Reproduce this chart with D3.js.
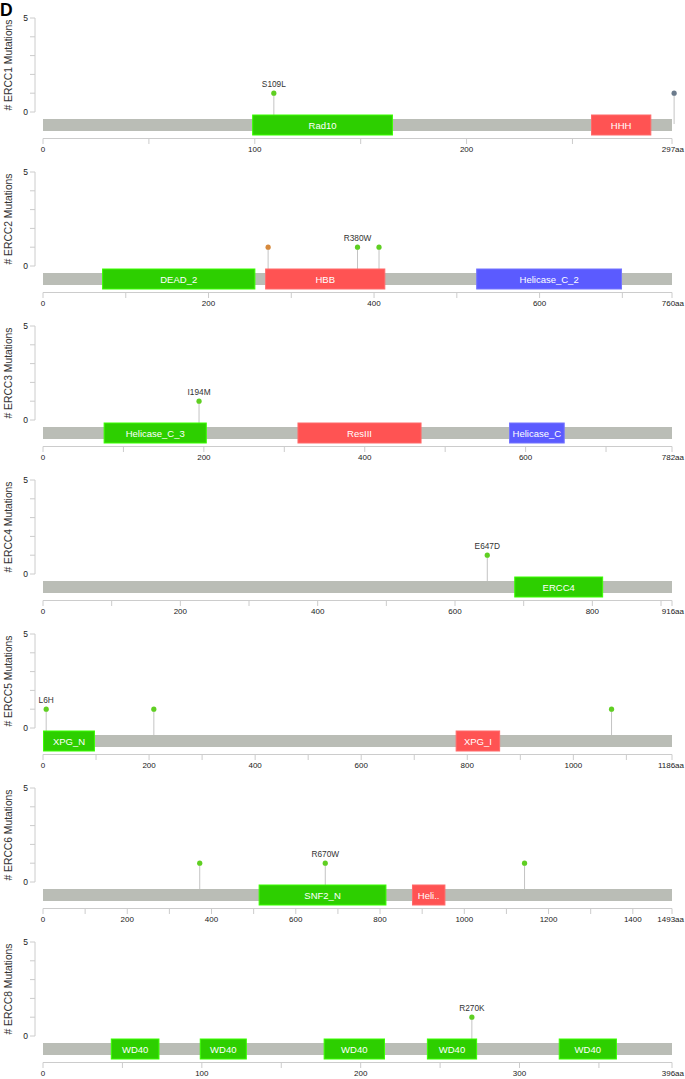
<!DOCTYPE html>
<html>
<head>
<meta charset="utf-8">
<script src="https://cdn.jsdelivr.net/npm/d3@7"></script>
<style>
  body { margin: 0; background: #fff; }
  svg text { font-family: "Liberation Sans", Arial, sans-serif; }
</style>
</head>
<body>
<div class="wrapper"></div>
<script>
// genes, in panel order
var genes = ["ERCC1", "ERCC2", "ERCC3", "ERCC4", "ERCC5", "ERCC6", "ERCC8"];
var lengths = [297, 760, 782, 916, 1186, 1493, 396];
var tickSteps = [50, 100, 100, 100, 100, 100, 50];
var yTicks = [0, 1, 2, 3, 4, 5];
var yTickLabels = [0, 5];

// pfam domains per gene [name, start, end]
var domains = [
  [["Rad10", 99, 165], ["HHH", 259, 287]],
  [["DEAD_2", 72, 256], ["HBB", 269, 413], ["Helicase_C_2", 524, 699]],
  [["Helicase_C_3", 76, 203], ["ResIII", 317, 470], ["Helicase_C", 580, 648]],
  [["ERCC4", 687, 815]],
  [["XPG_N", 1, 97], ["XPG_I", 779, 861]],
  [["SNF2_N", 513, 814], ["Helicase_C", 877, 954]],
  [["WD40", 43, 73], ["WD40", 99, 128], ["WD40", 177, 215], ["WD40", 242, 273], ["WD40", 325, 361]]
];

// mutations per gene [position, count, label, type]
var mutations = [
  [[109, 1, "S109L", "missense"], [298, 1, "", "truncating"]],
  [[272, 1, "", "inframe"], [380, 1, "R380W", "missense"], [406, 1, "", "missense"]],
  [[194, 1, "I194M", "missense"]],
  [[647, 1, "E647D", "missense"]],
  [[6, 1, "L6H", "missense"], [209, 1, "", "missense"], [1072, 1, "", "missense"]],
  [[372, 1, "", "missense"], [670, 1, "R670W", "missense"], [1143, 1, "", "missense"]],
  [[270, 1, "R270K", "missense"]]
];

var W = 685, H = 1079;
var panelH = 154;
var x0 = 43, x1 = 672;

// domain colours go by order of first appearance within a gene
var palette = ["#2dcf00", "#ff5353", "#5b5bff"];
var mutColor = { missense: "#5fcf22", inframe: "#d6893c", truncating: "#6b7b8c" };

var svg = d3
  .select(".wrapper")
  .append("svg")
  .attr("width", W)
  .attr("height", H);

svg
  .append("text")
  .attr("x", 0)
  .attr("y", 16)
  .attr("font-size", 17.5)
  .attr("font-weight", "bold")
  .attr("fill", "#000")
  .text("D");

genes.forEach(function(gene, i) {
  var g = svg.append("g").attr("transform", "translate(0," + i * panelH + ")");

  var x = d3.scaleLinear().domain([0, lengths[i]]).range([x0, x1]);
  var y = d3.scaleLinear().domain([0, 5]).range([112, 18]);

  var names = [];
  domains[i].forEach(function(d) {
    if (names.indexOf(d[0]) < 0) names.push(d[0]);
  });
  var color = d3.scaleOrdinal().domain(names).range(palette);

  // y axis
  g.append("line")
    .attr("x1", 35).attr("x2", 35)
    .attr("y1", y(5)).attr("y2", y(0))
    .attr("stroke", "#ccc");
  g.selectAll(".ytick")
    .data(yTicks)
    .enter()
    .append("line")
    .attr("x1", 30).attr("x2", 35)
    .attr("y1", function(d) { return y(d); })
    .attr("y2", function(d) { return y(d); })
    .attr("stroke", "#ccc");
  g.selectAll(".ylab")
    .data(yTickLabels)
    .enter()
    .append("text")
    .attr("x", 28)
    .attr("y", function(d) { return y(d) + 3; })
    .attr("text-anchor", "end")
    .attr("font-size", 8.5)
    .attr("fill", "#222")
    .text(function(d) { return d; });
  g.append("text")
    .attr("transform", "translate(11.5," + (y(5) + y(0)) / 2 + ") rotate(-90)")
    .attr("text-anchor", "middle")
    .attr("font-size", 10.3)
    .attr("fill", "#333")
    .text("# " + gene + " Mutations");

  // lollipop stems
  var muts = mutations[i];
  g.selectAll(".stem")
    .data(muts)
    .enter()
    .append("line")
    .attr("x1", function(d) { return x(d[0]); })
    .attr("x2", function(d) { return x(d[0]); })
    .attr("y1", function(d) { return y(d[1]); })
    .attr("y2", 124)
    .attr("stroke", "#c4c4c4")
    .attr("stroke-width", 1);

  // protein bar
  g.append("rect")
    .attr("x", x(0))
    .attr("width", x(lengths[i]) - x(0))
    .attr("y", 119)
    .attr("height", 12)
    .attr("fill", "#babdb6");

  // domains
  var dg = g.selectAll(".domain")
    .data(domains[i])
    .enter()
    .append("g");
  dg.append("rect")
    .attr("x", function(d) { return x(d[1]); })
    .attr("width", function(d) { return x(d[2]) - x(d[1]); })
    .attr("y", 115)
    .attr("height", 20)
    .attr("fill", function(d) { return color(d[0]); })
    .attr("stroke", function(d) { return d3.color(color(d[0])).brighter(0.7); })
    .attr("stroke-width", 1);
  dg.append("text")
    .attr("x", function(d) { return (x(d[1]) + x(d[2])) / 2; })
    .attr("y", 128.5)
    .attr("text-anchor", "middle")
    .attr("font-size", 9.5)
    .attr("fill", "#fff")
    .text(function(d) { return d[0]; })
    .each(function(d) {
      var t = d3.select(this);
      var room = x(d[2]) - x(d[1]) - 1;
      var s = d[0];
      if (this.getComputedTextLength() > room) {
        while (s.length > 1) {
          s = s.slice(0, -1);
          t.text(s + "..");
          if (this.getComputedTextLength() <= room - 8) break;
        }
      }
    });

  // lollipop heads + labels
  g.selectAll(".head")
    .data(muts)
    .enter()
    .append("circle")
    .attr("cx", function(d) { return x(d[0]); })
    .attr("cy", function(d) { return y(d[1]); })
    .attr("r", 2.6)
    .attr("fill", function(d) { return mutColor[d[3]]; });
  g.selectAll(".mlab")
    .data(muts.filter(function(d) { return d[2]; }))
    .enter()
    .append("text")
    .attr("x", function(d) { return x(d[0]); })
    .attr("y", function(d) { return y(d[1]) - 6.5; })
    .attr("text-anchor", "middle")
    .attr("font-size", 8.3)
    .attr("fill", "#333")
    .text(function(d) { return d[2]; });

  // x axis
  var step = tickSteps[i];
  var ticks = d3.range(0, lengths[i], step);
  g.append("line")
    .attr("x1", x(0)).attr("x2", x(lengths[i]))
    .attr("y1", 138.5).attr("y2", 138.5)
    .attr("stroke", "#ccc");
  g.selectAll(".xtick")
    .data(ticks.concat([lengths[i]]))
    .enter()
    .append("line")
    .attr("x1", function(d) { return x(d); })
    .attr("x2", function(d) { return x(d); })
    .attr("y1", 138.5).attr("y2", 144)
    .attr("stroke", "#ccc");
  g.selectAll(".xlab")
    .data(ticks.filter(function(d) { return (d / step) % 2 === 0; }))
    .enter()
    .append("text")
    .attr("x", function(d) { return x(d); })
    .attr("y", 151.5)
    .attr("text-anchor", "middle")
    .attr("font-size", 8)
    .attr("fill", "#222")
    .text(function(d) { return d; });
  g.append("text")
    .attr("x", 684)
    .attr("y", 151.5)
    .attr("text-anchor", "end")
    .attr("font-size", 8)
    .attr("fill", "#222")
    .text(lengths[i] + "aa");
});
</script>
</body>
</html>
